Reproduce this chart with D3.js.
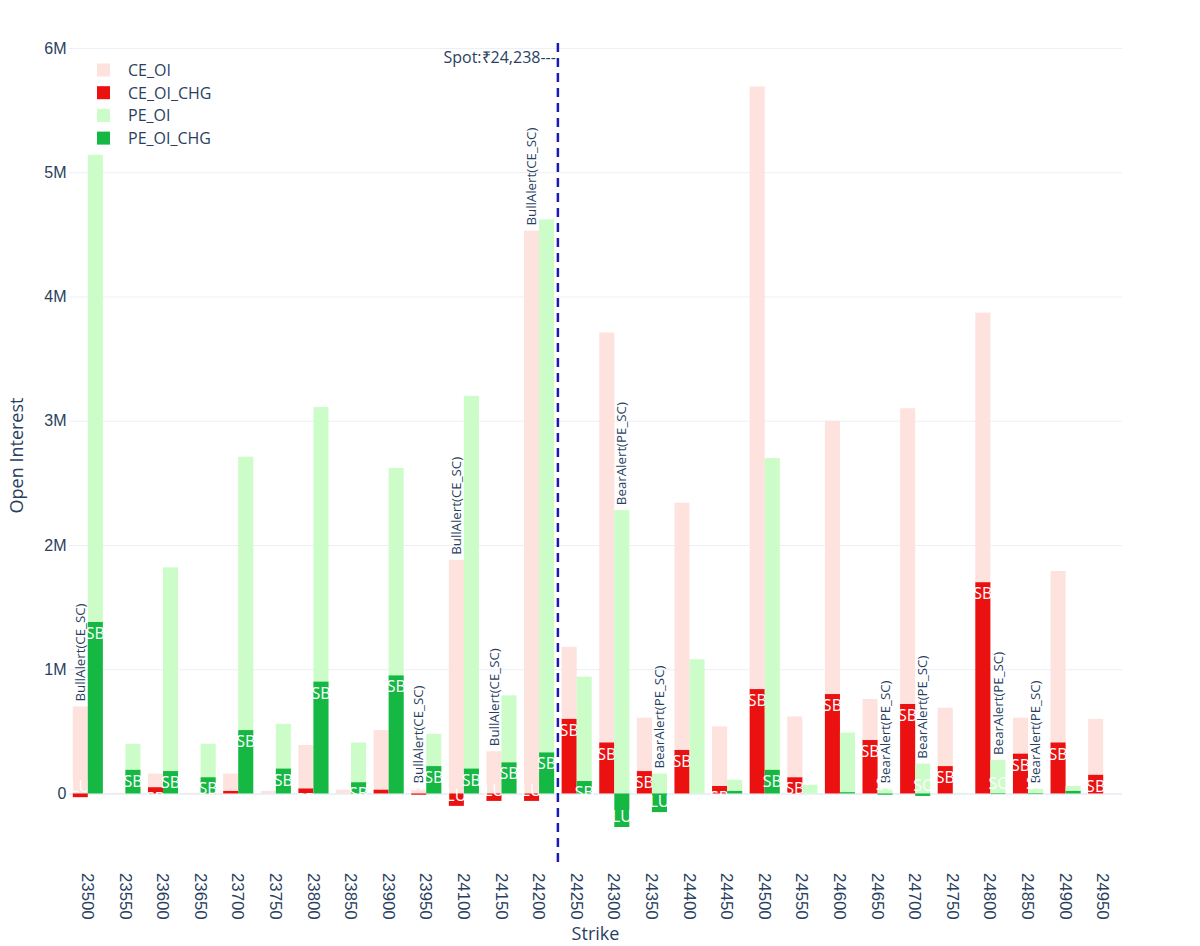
<!DOCTYPE html>
<html>
<head>
<meta charset="utf-8">
<script src="https://cdn.jsdelivr.net/npm/d3@7"></script>
<style>
  body { margin: 0; background: #fff; }
  svg { font-family: "Open Sans", verdana, arial, sans-serif; }
</style>
</head>
<body>
<svg id="chart" width="1200" height="946"></svg>
<script>
// strikes shown on the category axis (24000 / 24050 are not in the chain)
var strikes = [23500, 23550, 23600, 23650, 23700, 23750, 23800, 23850, 23900, 23950,
  24100, 24150, 24200, 24250, 24300, 24350, 24400, 24450, 24500, 24550,
  24600, 24650, 24700, 24750, 24800, 24850, 24900, 24950];

// open interest, in millions
var ceOI = [0.70, 0.005, 0.16, 0.005, 0.16, 0.02, 0.39, 0.03, 0.51, 0.04,
  1.88, 0.34, 4.53, 1.18, 3.71, 0.61, 2.34, 0.54, 5.69, 0.62,
  3.00, 0.76, 3.10, 0.69, 3.87, 0.61, 1.79, 0.60];
var ceOIChg = [-0.03, 0, 0.05, 0, 0.02, 0, 0.04, 0, 0.03, -0.01,
  -0.10, -0.06, -0.06, 0.60, 0.41, 0.18, 0.35, 0.06, 0.84, 0.13,
  0.80, 0.43, 0.72, 0.22, 1.70, 0.32, 0.41, 0.15];
var peOI = [5.14, 0.40, 1.82, 0.40, 2.71, 0.56, 3.11, 0.41, 2.62, 0.48,
  3.20, 0.79, 4.62, 0.94, 2.28, 0.16, 1.08, 0.11, 2.70, 0.07,
  0.49, 0.04, 0.24, 0.005, 0.27, 0.04, 0.06, 0];
var peOIChg = [1.38, 0.19, 0.18, 0.13, 0.51, 0.20, 0.90, 0.09, 0.95, 0.22,
  0.20, 0.25, 0.33, 0.10, -0.27, -0.15, 0, 0.02, 0.19, 0,
  0.01, -0.01, -0.02, 0, -0.005, -0.005, 0.02, 0];

// buildup tags printed inside the change bars
var ceTags = ["LU", "", "SB", "", "SB", "", "SB", "", "SB", "LU",
  "LU", "LU", "LU", "SB", "SB", "SB", "SB", "SB", "SB", "SB",
  "SB", "SB", "SB", "SB", "SB", "SB", "SB", "SB"];
var peTags = ["SB", "SB", "SB", "SB", "SB", "SB", "SB", "SB", "SB", "SB",
  "SB", "SB", "SB", "SB", "LU", "LU", "", "SB", "SB", "",
  "SB", "SC", "SC", "", "SC", "SC", "SB", ""];

// alerts printed above the OI bars
var ceAlerts = ["BullAlert(CE_SC)", "", "", "", "", "", "", "", "", "BullAlert(CE_SC)",
  "BullAlert(CE_SC)", "BullAlert(CE_SC)", "BullAlert(CE_SC)", "", "", "", "", "", "", "",
  "", "", "", "", "", "", "", ""];
var peAlerts = ["", "", "", "", "", "", "", "", "", "",
  "", "", "", "", "BearAlert(PE_SC)", "BearAlert(PE_SC)", "", "", "", "",
  "", "BearAlert(PE_SC)", "BearAlert(PE_SC)", "", "BearAlert(PE_SC)", "BearAlert(PE_SC)", "", ""];

var spot = 24238;
var yTicks = [0, 1, 2, 3, 4, 5, 6];

var textColor = "#2a3f5f",
  gridColor = "#ebf0f8";

var svg = d3.select("#chart");
var plot = {left: 69, right: 1122, top: 43, bottom: 868};

var x = d3.scaleBand()
  .domain(strikes)
  .range([plot.left, plot.right])
  .paddingInner(0.2)
  .paddingOuter(0.1);

var xSide = d3.scaleBand()
  .domain(["CE", "PE"])
  .range([0, x.bandwidth()]);

var y = d3.scaleLinear()
  .domain([-0.6, 6.04])
  .range([plot.bottom, plot.top]);

// y grid + labels
var yAxis = svg.append("g")
  .attr("class", "axis axis--y")
  .attr("transform", "translate(" + plot.left + ",0)")
  .call(d3.axisLeft(y)
    .tickValues(yTicks)
    .tickFormat(function(d) { return d === 0 ? "0" : d + "M"; })
    .tickSize(-(plot.right - plot.left))
    .tickPadding(2.5));
yAxis.select(".domain").remove();
yAxis.selectAll("line")
  .attr("stroke", gridColor)
  .attr("stroke-width", function(d) { return d === 0 ? 2 : 1; });
yAxis.selectAll("text")
  .attr("fill", textColor)
  .style("font-size", "16px");

// x tick labels, turned 90deg
var xAxis = svg.append("g")
  .attr("class", "axis axis--x")
  .attr("transform", "translate(0," + plot.bottom + ")")
  .call(d3.axisBottom(x).tickSize(0));
xAxis.select(".domain").remove();
xAxis.selectAll("text")
  .attr("x", 5)
  .attr("y", 0)
  .attr("dy", "0.35em")
  .attr("transform", "rotate(90)")
  .attr("fill", textColor)
  .style("text-anchor", "start")
  .style("font-size", "16.8px");

var series = [
  {name: "CE_OI", side: "CE", values: ceOI, labels: ceAlerts, color: "#fde2de", inside: false},
  {name: "CE_OI_CHG", side: "CE", values: ceOIChg, labels: ceTags, color: "#eb1111", inside: true},
  {name: "PE_OI", side: "PE", values: peOI, labels: peAlerts, color: "#ccfcc8", inside: false},
  {name: "PE_OI_CHG", side: "PE", values: peOIChg, labels: peTags, color: "#14b843", inside: true}
];

var bars = svg.append("g").attr("class", "bars");

series.forEach(function(s) {
  var rows = strikes.map(function(k, i) {
    return {strike: k, value: s.values[i], label: s.labels[i]};
  });
  var g = bars.append("g").attr("class", "trace");
  var cx = function(d) { return x(d.strike) + xSide(s.side) + xSide.bandwidth() / 2; };

  g.selectAll("rect")
    .data(rows)
    .enter()
    .append("rect")
    .attr("x", function(d) { return x(d.strike) + xSide(s.side); })
    .attr("width", xSide.bandwidth())
    .attr("y", function(d) { return y(Math.max(0, d.value)); })
    .attr("height", function(d) { return Math.abs(y(d.value) - y(0)); })
    .attr("fill", s.color);

  var labelled = rows.filter(function(d) { return d.label !== ""; });
  if (s.inside) {
    g.selectAll("text")
      .data(labelled)
      .enter()
      .append("text")
      .attr("x", cx)
      .attr("y", function(d) { return d.value >= 0 ? y(d.value) + 17 : y(d.value) - 5; })
      .attr("text-anchor", "middle")
      .attr("fill", "#fff")
      .style("font-size", "16px")
      .text(function(d) { return d.label; });
  } else {
    g.selectAll("text")
      .data(labelled)
      .enter()
      .append("text")
      .attr("transform", function(d) { return "translate(" + cx(d) + "," + (y(d.value) - 5) + ") rotate(-90)"; })
      .attr("dy", "0.35em")
      .attr("text-anchor", "start")
      .attr("fill", textColor)
      .style("font-size", "13.3px")
      .text(function(d) { return d.label; });
  }
});

// spot marker between the two strikes around it
var below = strikes.filter(function(k) { return k <= spot; });
var spotX = x(below[below.length - 1]) + x.bandwidth() / 2 + x.step() / 2;
svg.append("line")
  .attr("x1", spotX).attr("x2", spotX)
  .attr("y1", plot.top).attr("y2", plot.bottom)
  .attr("stroke", "#1a1ab8")
  .attr("stroke-width", 2.5)
  .attr("stroke-dasharray", "9,6");
svg.append("text")
  .attr("x", spotX - 2)
  .attr("y", 62.5)
  .attr("text-anchor", "end")
  .attr("fill", textColor)
  .style("font-size", "16px")
  .text("Spot:₹" + d3.format(",")(spot) + "---");

// legend
var legend = svg.append("g")
  .attr("class", "legend")
  .attr("transform", "translate(97,70)");
var item = legend.selectAll("g")
  .data(series)
  .enter()
  .append("g")
  .attr("transform", function(d, i) { return "translate(0," + (i * 22.7) + ")"; });
item.append("rect")
  .attr("x", 0).attr("y", -6.5)
  .attr("width", 13).attr("height", 13)
  .attr("fill", function(d) { return d.color; });
item.append("text")
  .attr("x", 31)
  .attr("y", 6)
  .attr("fill", textColor)
  .style("font-size", "16px")
  .text(function(d) { return d.name; });

// axis titles
svg.append("text")
  .attr("x", (plot.left + plot.right) / 2)
  .attr("y", 940)
  .attr("text-anchor", "middle")
  .attr("fill", textColor)
  .style("font-size", "18px")
  .text("Strike");
svg.append("text")
  .attr("transform", "translate(17," + ((plot.top + plot.bottom) / 2) + ") rotate(-90)")
  .attr("dy", "0.35em")
  .attr("text-anchor", "middle")
  .attr("fill", textColor)
  .style("font-size", "18px")
  .text("Open Interest");
</script>
</body>
</html>
